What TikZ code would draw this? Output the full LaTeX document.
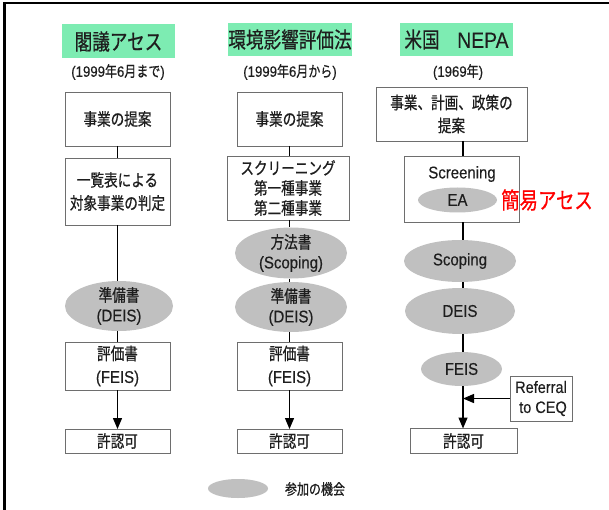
\documentclass[tikz,border=0pt]{standalone}
\usepackage{fontspec}
\setmainfont{Noto Sans CJK JP}[FakeStretch=0.8, FakeBold=0.6]
\newfontfamily\lat{Liberation Sans}[FakeStretch=0.88, FakeBold=0.3]
\usetikzlibrary{shapes.geometric,arrows.meta}
\definecolor{mint}{RGB}{125,236,178}
\definecolor{ellgray}{RGB}{192,192,192}
\definecolor{boxline}{RGB}{110,110,110}
\definecolor{txt}{RGB}{30,30,30}
\tikzset{
  every node/.style={inner sep=0pt, outer sep=0pt, text=txt},
  box/.style={draw=boxline, line width=0.9pt, fill=white, align=center, font=\fontsize{17}{23}\selectfont},
  ell/.style={ellipse, fill=ellgray, draw=none},
  etext/.style={align=center, font=\fontsize{17}{20}\selectfont},
  title/.style={fill=mint, font=\fontsize{22}{26}\selectfont},
  sub/.style={font=\fontsize{15}{18}\selectfont},
  conn/.style={line width=1.3pt, black},
  arr/.style={conn, -{Triangle[length=11pt,width=9pt]}},
}
\begin{document}
\begin{tikzpicture}[x=1pt,y=-1pt]
\useasboundingbox (0,0) rectangle (609,510);
\draw[line width=2.2pt] (4.5,510) -- (4.5,3.2) -- (609,3.2);

% ---------- column 1 ----------
\node[title, minimum width=113, minimum height=34] (t1) at (118.5,41.5) {閣議アセス};
\node[sub] (s1) at (118,72) {{\lat (1999}年{\lat 6}月まで{\lat )}};
\node[box, minimum width=105, minimum height=54] (b1a) at (117.5,119) {事業の提案};
\node[box, minimum width=105, minimum height=67] (b1b) at (117.5,191.5) {一覧表による\\対象事業の判定};
\node[ell, minimum width=108, minimum height=50] (e1) at (119,306) {};
\node[etext] (e1t) at (e1) {準備書\\{\lat (DEIS)}};
\node[box, minimum width=105, minimum height=48] (b1c) at (117.5,366) {評価書\\{\lat (FEIS)}};
\node[box, minimum width=105, minimum height=24] (b1d) at (117.5,441) {許認可};
\draw[conn] (b1a.south) -- (b1b.north);
\draw[conn] (b1b.south) -- (e1.north -| b1b.south);
\draw[conn] (e1.south -| b1c.north) -- (b1c.north);
\draw[arr] (b1c.south) -- (b1d.north);

% ---------- column 2 ----------
\node[title, minimum width=114, minimum height=33] (t2) at (290,39.5) {環境影響評価法};
\node[sub] (s2) at (290,72) {{\lat (1999}年{\lat 6}月から{\lat )}};
\node[box, minimum width=105, minimum height=54] (b2a) at (289.5,119) {事業の提案};
\node[box, minimum width=122, minimum height=64, font=\fontsize{17}{20}\selectfont] (b2b) at (288,188) {スクリーニング\\第一種事業\\第二種事業};
\node[ell, minimum width=112, minimum height=51] (e2a) at (291,253) {};
\node[etext] (e2at) at (e2a) {方法書\\{\lat (Scoping)}};
\node[ell, minimum width=112, minimum height=50] (e2b) at (291,307) {};
\node[etext] (e2bt) at (e2b) {準備書\\{\lat (DEIS)}};
\node[box, minimum width=105, minimum height=48] (b2c) at (289.5,366) {評価書\\{\lat (FEIS)}};
\node[box, minimum width=105, minimum height=24] (b2d) at (289.5,441) {許認可};
\draw[conn] (b2a.south) -- (b2b.north -| b2a.south);
\draw[conn] (b2b.south -| b2a.south) -- (e2a.north -| b2a.south);
\draw[conn] (e2a.south -| b2a.south) -- (e2b.north -| b2a.south);
\draw[conn] (e2b.south -| b2a.south) -- (b2c.north);
\draw[arr] (b2c.south) -- (b2d.north);

% ---------- column 3 ----------
\node[title, minimum width=113, minimum height=33] (t3) at (456.5,39.5) {米国　{\lat NEPA}};
\node[sub] (s3) at (458,72) {{\lat (1969}年{\lat )}};
\node[box, minimum width=151, minimum height=54] (b3a) at (451.5,114) {事業、計画、政策の\\提案};
\node[box, minimum width=115, minimum height=66] (b3b) at (462,189.5) {};
\node[font=\lat\fontsize{17}{20}\selectfont] (scr) at (462,174) {Screening};
\node[ell, minimum width=79, minimum height=25] (ea) at (457.5,200) {};
\node[font=\lat\fontsize{17}{20}\selectfont] (eat) at (ea) {EA};
\node[font=\fontsize{23}{26}\selectfont, text=red] (kan) at (547,200) {簡易アセス};
\node[ell, minimum width=112, minimum height=42] (e3a) at (460,261) {};
\node[font=\lat\fontsize{17}{20}\selectfont] (e3at) at (e3a) {Scoping};
\node[ell, minimum width=110, minimum height=46] (e3b) at (460,311) {};
\node[font=\lat\fontsize{17}{20}\selectfont] (e3bt) at (e3b) {DEIS};
\node[ell, minimum width=81, minimum height=34] (e3c) at (461.5,369) {};
\node[font=\lat\fontsize{17}{20}\selectfont] (e3ct) at (e3c) {FEIS};
\node[box, minimum width=62, minimum height=45, align=right, font=\lat\fontsize{16.5}{20}\selectfont] (ref) at (541,398.5) {Referral\\to CEQ};
\node[box, minimum width=107, minimum height=25] (b3d) at (463.5,441) {許認可};
\coordinate (j) at (463,398.5);
\draw[conn] (b3a.south -| j) -- (b3b.north -| j);
\draw[conn] (b3b.south -| j) -- (e3a.north -| j);
\draw[conn] (e3a.south -| j) -- (e3b.north -| j);
\draw[conn] (e3b.south -| j) -- (e3c.north -| j);
\draw[arr] (e3c.south -| j) -- (b3d.north -| j);
\draw[arr] (ref.west) -- (j);

% ---------- legend ----------
\node[ell, minimum width=60, minimum height=19] (leg) at (238,488.5) {};
\node[font=\fontsize{15}{18}\selectfont] (legt) at (315,489) {参加の機会};
\end{tikzpicture}
\end{document}
